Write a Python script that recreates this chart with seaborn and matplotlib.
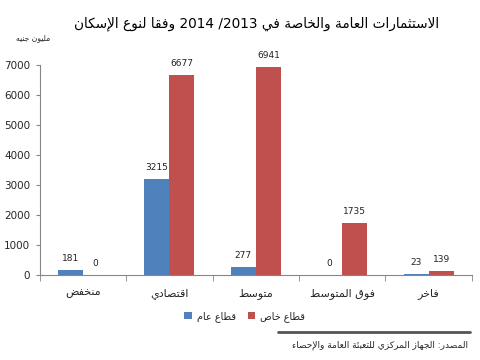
import re
import pandas as pd
import matplotlib
matplotlib.use("Agg")
import matplotlib.pyplot as plt
import seaborn as sns

# data
categories = ["منخفض", "اقتصادي", "متوسط", "فوق المتوسط", "فاخر"]
sectors = ["قطاع عام", "قطاع خاص"]
public_values = [181, 3215, 277, 0, 23]
private_values = [0, 6677, 6941, 1735, 139]
y_ticks = [0, 1000, 2000, 3000, 4000, 5000, 6000, 7000]

title = "الاستثمارات العامة والخاصة في 2013/ 2014 وفقا لنوع الإسكان"
unit = "مليون جنيه"
source = "المصدر: الجهاز المركزي للتعبئة العامة والإحصاء"

# matplotlib does no arabic shaping, so map letters to presentation forms by hand
AR_FORMS = {
    'ء': (0xFE80, 1), 'آ': (0xFE81, 2), 'أ': (0xFE83, 2), 'ؤ': (0xFE85, 2),
    'إ': (0xFE87, 2), 'ئ': (0xFE89, 4), 'ا': (0xFE8D, 2), 'ب': (0xFE8F, 4),
    'ة': (0xFE93, 2), 'ت': (0xFE95, 4), 'ث': (0xFE99, 4), 'ج': (0xFE9D, 4),
    'ح': (0xFEA1, 4), 'خ': (0xFEA5, 4), 'د': (0xFEA9, 2), 'ذ': (0xFEAB, 2),
    'ر': (0xFEAD, 2), 'ز': (0xFEAF, 2), 'س': (0xFEB1, 4), 'ش': (0xFEB5, 4),
    'ص': (0xFEB9, 4), 'ض': (0xFEBD, 4), 'ط': (0xFEC1, 4), 'ظ': (0xFEC5, 4),
    'ع': (0xFEC9, 4), 'غ': (0xFECD, 4), 'ف': (0xFED1, 4), 'ق': (0xFED5, 4),
    'ك': (0xFED9, 4), 'ل': (0xFEDD, 4), 'م': (0xFEE1, 4), 'ن': (0xFEE5, 4),
    'ه': (0xFEE9, 4), 'و': (0xFEED, 2), 'ى': (0xFEEF, 2), 'ي': (0xFEF1, 4),
}
LAM_ALEF = {'آ': 0xFEF5, 'أ': 0xFEF7, 'إ': 0xFEF9, 'ا': 0xFEFB}


def forms(u):
    if len(u) == 2:
        return LAM_ALEF[u[1]], 2
    return AR_FORMS.get(u, (None, 0))


def ar(text):
    units, i = [], 0
    while i < len(text):
        if text[i] == 'ل' and text[i + 1:i + 2] in LAM_ALEF:
            units.append(text[i:i + 2])
            i += 2
        else:
            units.append(text[i])
            i += 1
    out = []
    for k, u in enumerate(units):
        base, n = forms(u)
        if base is None:
            out.append(u)
            continue
        prev = k > 0 and forms(units[k - 1])[1] == 4
        nxt = n == 4 and k + 1 < len(units) and forms(units[k + 1])[1] >= 2
        if n == 1:
            off = 0
        elif prev and nxt:
            off = 3
        elif prev:
            off = 1
        elif nxt:
            off = 2
        else:
            off = 0
        out.append(chr(base + off))
    s = ''.join(out)[::-1]
    return re.sub(r'[0-9]+', lambda m: m.group(0)[::-1], s)


df = pd.DataFrame({
    "cat": [ar(c) for c in categories] * 2,
    "sector": [ar(sectors[0])] * 5 + [ar(sectors[1])] * 5,
    "value": public_values + private_values,
})

sns.set_style("white")
plt.rcParams['font.family'] = ['DejaVu Sans']

fig = plt.figure(figsize=(4.8, 3.6), dpi=100)
ax = fig.add_axes([0.083, 0.236, 0.9, 0.583])

sns.barplot(data=df, x="cat", y="value", hue="sector",
            order=[ar(c) for c in categories],
            hue_order=[ar(s) for s in sectors],
            palette=["#4F81BD", "#C0504D"], width=0.58, gap=0,
            saturation=1, linewidth=0, ax=ax)

for cont in ax.containers:
    ax.bar_label(cont, fmt="%d", padding=5, fontsize=6.5, color="#222222")

ax.set_xlim(-0.5, 4.5)
ax.set_ylim(0, 7000)
ax.set_yticks(y_ticks)
ax.set_xlabel("")
ax.set_ylabel("")
ax.tick_params(axis="y", labelsize=7.5, left=True, length=3, color="#868686", pad=4)
ax.tick_params(axis="x", labelsize=8, bottom=False, pad=6)
ax.set_xticks([x + 0.5 for x in range(-1, 5)], minor=True)
ax.tick_params(axis="x", which="minor", bottom=True, length=4, color="#868686")
for side in ["top", "right"]:
    ax.spines[side].set_visible(False)
for side in ["left", "bottom"]:
    ax.spines[side].set_color("#868686")
    ax.spines[side].set_linewidth(0.8)

ax.legend(loc="center", bbox_to_anchor=(0.51, 0.122), bbox_transform=fig.transFigure,
          ncol=2, frameon=False, fontsize=7, handlelength=0.8, handleheight=0.8,
          handletextpad=0.5, columnspacing=1.2)

fig.text(0.535, 0.935, ar(title), ha="center", va="center", fontsize=9.8,
         color="black")
fig.text(0.07, 0.895, ar(unit), ha="center", va="center", fontsize=5.5)
fig.add_artist(plt.Line2D([0.58, 0.98], [0.078, 0.078], transform=fig.transFigure,
                          color="#555555", linewidth=2))
fig.text(0.975, 0.04, ar(source), ha="right", va="center", fontsize=6.5)

fig.savefig("out.png", dpi=100)
